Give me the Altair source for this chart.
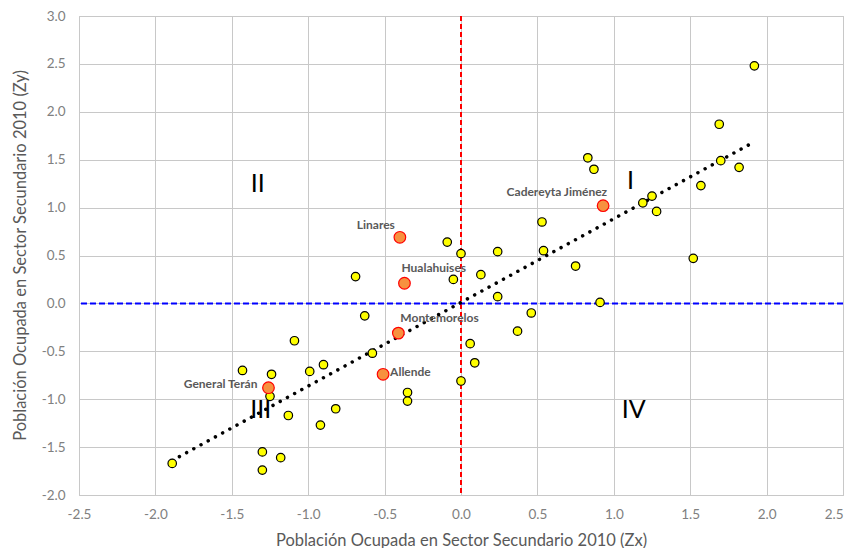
import altair as alt
import pandas as pd

# ---- data ----
yellow_x = [1.92, 1.69, 0.83, 0.87, 1.70, 1.82, 1.57, 1.25, 1.19, 1.28, 1.52, 0.91,
            0.53, 0.54, 0.75, 0.24, 0.13, 0.24, -0.09, 0.00, -0.05, 0.46, 0.37, 0.06,
            0.09, 0.00, -0.35, -0.35, -0.69, -0.63, -0.58, -1.09, -0.99, -0.90, -1.43,
            -1.24, -1.25, -1.13, -0.92, -0.82, -1.30, -1.30, -1.18, -1.89]
yellow_y = [2.48, 1.87, 1.52, 1.40, 1.49, 1.42, 1.23, 1.12, 1.05, 0.96, 0.47, 0.01,
            0.85, 0.55, 0.39, 0.54, 0.30, 0.07, 0.64, 0.52, 0.25, -0.10, -0.29, -0.42,
            -0.62, -0.81, -0.93, -1.02, 0.28, -0.13, -0.52, -0.39, -0.71, -0.64, -0.70,
            -0.74, -0.97, -1.17, -1.27, -1.10, -1.55, -1.74, -1.61, -1.67]

named = ["Cadereyta Jiménez", "Linares", "Hualahuises", "Montemorelos", "Allende", "General Terán"]
named_x = [0.93, -0.40, -0.37, -0.41, -0.51, -1.26]
named_y = [1.02, 0.69, 0.21, -0.31, -0.74, -0.88]

quad_text = ["I", "II", "III", "IV"]
quad_x = [1.11, -1.33, -1.31, 1.13]
quad_y = [1.28, 1.25, -1.11, -1.11]

x_ticks = [-2.5, -2.0, -1.5, -1.0, -0.5, 0.0, 0.5, 1.0, 1.5, 2.0, 2.5]
y_ticks = [-2.0, -1.5, -1.0, -0.5, 0.0, 0.5, 1.0, 1.5, 2.0, 2.5, 3.0]

x_title = "Población Ocupada en Sector Secundario 2010 (Zx)"
y_title = "Población Ocupada en Sector Secundario  2010 (Zy)"

# ---- tables ----
yellow = pd.DataFrame({"x": yellow_x, "y": yellow_y})
orange = pd.DataFrame({"x": named_x, "y": named_y, "name": named})
allpts = pd.concat([yellow, orange[["x", "y"]]], ignore_index=True)
quads = pd.DataFrame({"x": quad_x, "y": quad_y, "t": quad_text})
zero = pd.DataFrame({"x": [0.0], "y": [0.0]})

FONT = "Lato"
xs = alt.Scale(domain=[-2.5, 2.5], nice=False, zero=False)
ys = alt.Scale(domain=[-2.0, 3.0], nice=False, zero=False)
x_axis = alt.Axis(values=x_ticks, format=".1f", labelPadding=12, labelOverlap=False,
                  labelAlign=alt.expr("datum.value >= 2.5 ? 'right' : 'center'"),
                  labelExpr="replace(datum.label, '\u2212', '-')",
                  titleY=50, titleBaseline="alphabetic")
y_axis = alt.Axis(values=y_ticks, format=".1f", labelPadding=14, labelOverlap=False,
                  labelExpr="replace(datum.label, '\u2212', '-')",
                  titleX=-54, titleY=239, titleBaseline="alphabetic")
X = alt.X("x:Q", scale=xs, title=x_title, axis=x_axis)
Y = alt.Y("y:Q", scale=ys, title=y_title, axis=y_axis)

vline = alt.Chart(zero).mark_rule(color="#FF0000", strokeWidth=2, strokeDash=[5, 3]).encode(x=X)
hline = alt.Chart(zero).mark_rule(color="#0000FF", strokeWidth=2, strokeDash=[6, 3]).encode(y=Y)

trend = alt.Chart(allpts).transform_regression("x", "y").mark_line(
    color="black", strokeWidth=3.5, strokeDash=[0.01, 8.2], strokeCap="round").encode(x=X, y=Y)

ypts = alt.Chart(yellow).mark_point(
    shape="circle", filled=True, fill="#FFFF00", stroke="black", strokeWidth=1.2,
    size=72, opacity=1).encode(x=X, y=Y)

opts = alt.Chart(orange).mark_point(
    shape="circle", filled=True, fill="#F7913F", stroke="#FF0000", strokeWidth=1.2,
    size=135, opacity=1).encode(x=X, y=Y)

label_style = {
    "Cadereyta Jiménez": ("right", 4, -14),
    "Linares": ("right", -5, -12),
    "Hualahuises": ("left", -3, -15),
    "Montemorelos": ("left", 2, -15),
    "Allende": ("left", 7, -2),
    "General Terán": ("right", -11, -4),
}
labels = []
for nm, (al, dx, dy) in label_style.items():
    labels.append(
        alt.Chart(orange).transform_filter(alt.datum.name == nm).mark_text(
            align=al, baseline="middle", dx=dx, dy=dy, font=FONT, fontSize=12,
            fontWeight="bold", color="#595959").encode(x=X, y=Y, text="name:N"))

qlab = alt.Chart(quads).mark_text(font=FONT, fontSize=25, color="black",
                                  align="center", baseline="middle").encode(x=X, y=Y, text="t:N")

chart = alt.layer(vline, hline, trend, ypts, opts, *labels, qlab).properties(
    width=764, height=479,
    padding={"left": 71, "top": 8, "right": 3, "bottom": 53},
    autosize=alt.AutoSizeParams(type="none"),
).configure_view(stroke="#BFBFBF", strokeWidth=1).configure_axis(
    grid=True, gridColor="#C8C8C8", gridWidth=1, domain=False, ticks=False, tickSize=0,
    labelFont=FONT, labelFontSize=13.5, labelColor="#808080",
    titleFont=FONT, titleFontSize=16.5, titleColor="#595959", titleFontWeight="normal",
)

chart.save("out.html", embed_options={"renderer": "svg", "actions": False})
